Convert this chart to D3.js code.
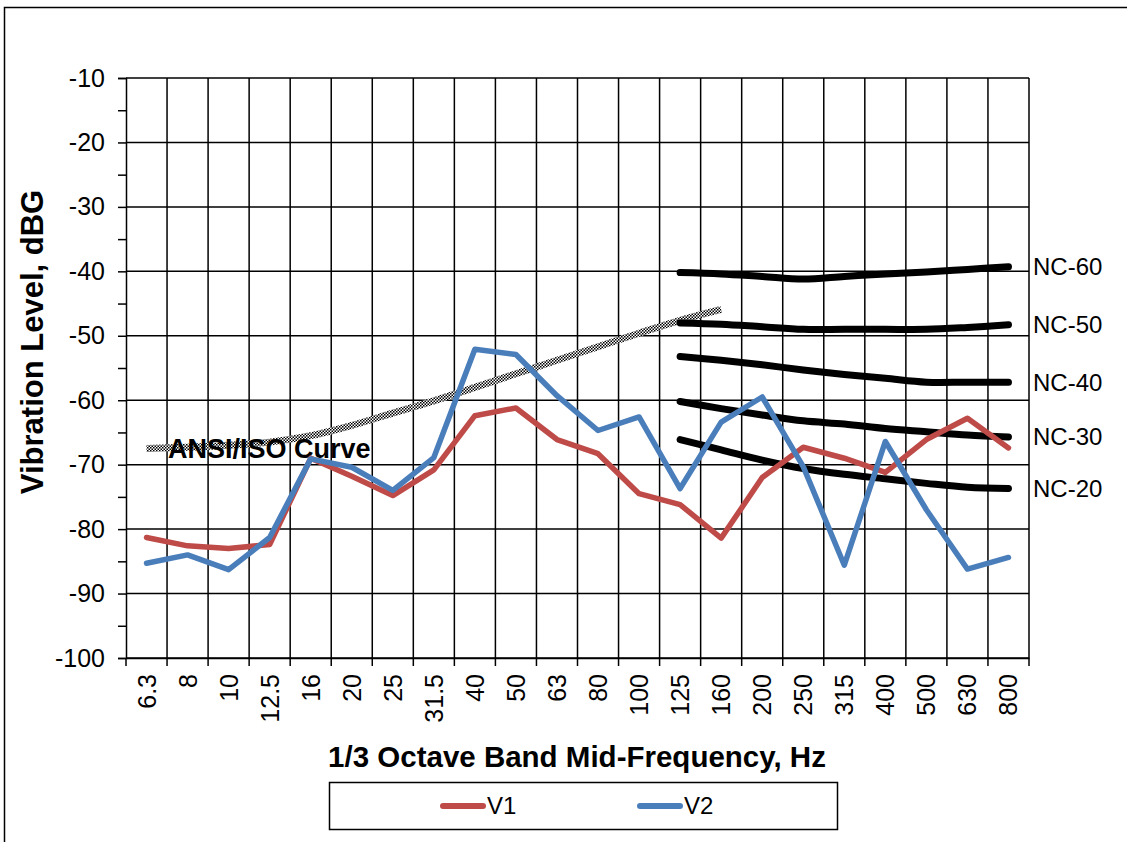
<!DOCTYPE html>
<html>
<head>
<meta charset="utf-8">
<script src="https://cdn.jsdelivr.net/npm/d3@7"></script>
<style>
  body { margin: 0; background: #fff; }
  text { font-family: "Liberation Sans", Arial, sans-serif; }
</style>
</head>
<body>
<div id="chart"></div>
<script>
const categories = ['6.3', '8', '10', '12.5', '16', '20', '25', '31.5', '40', '50', '63',
  '80', '100', '125', '160', '200', '250', '315', '400', '500', '630', '800'];

const v1 = [-81.3, -82.6, -83.0, -82.4, -69.0, -71.8, -74.8, -70.8, -62.4, -61.2, -66.1,
  -68.3, -74.5, -76.2, -81.4, -72.0, -67.3, -69.0, -71.2, -66.1, -62.8, -67.4];
const v2 = [-85.3, -84.0, -86.3, -81.3, -69.1, -70.4, -74.0, -68.9, -52.1, -52.9, -59.3,
  -64.7, -62.6, -73.7, -63.4, -59.5, -70.3, -85.6, -66.4, -77.0, -86.2, -84.4];

// ANSI/ISO curve covers 6.3 .. 160 Hz
const ansiCats = categories.slice(0, 15);
const ansi = [-67.5, -67.3, -67.0, -66.5, -65.5, -63.9, -62.0, -60.1, -58.0, -55.9, -53.8,
  -51.7, -49.6, -47.6, -45.9];

// NC curves cover 125 .. 800 Hz
const ncCats = categories.slice(13);
const ncNames = ['NC-60', 'NC-50', 'NC-40', 'NC-30', 'NC-20'];
const nc60 = [-40.2, -40.4, -40.8, -41.2, -40.8, -40.4, -40.1, -39.7, -39.3];
const nc50 = [-48.0, -48.2, -48.6, -49.0, -49.0, -49.0, -49.0, -48.7, -48.3];
const nc40 = [-53.2, -53.8, -54.5, -55.3, -56.0, -56.6, -57.2, -57.2, -57.2];
const nc30 = [-60.2, -61.3, -62.3, -63.2, -63.7, -64.4, -64.9, -65.4, -65.7];
const nc20 = [-66.1, -67.7, -69.3, -70.6, -71.5, -72.2, -72.9, -73.5, -73.7];
const ncValues = [nc60, nc50, nc40, nc30, nc20];

const yTicks = d3.range(-100, 0, 10);
const yMinor = d3.range(-95, -10, 10);

const width = 1127;
const height = 842;
const margin = { top: 78, right: 98, bottom: 184, left: 126 };
const font = '"Liberation Sans", Arial, sans-serif';

const svg = d3.select('#chart')
  .append('svg')
  .attr('width', width)
  .attr('height', height);

// checker pattern for the ANSI/ISO curve
const pat = svg.append('defs').append('pattern')
  .attr('id', 'checker')
  .attr('patternUnits', 'userSpaceOnUse')
  .attr('width', 3).attr('height', 3);
pat.append('rect').attr('width', 3).attr('height', 3).attr('fill', '#fff');
pat.append('rect').attr('width', 1.5).attr('height', 1.5).attr('fill', '#000');
pat.append('rect').attr('x', 1.5).attr('y', 1.5).attr('width', 1.5).attr('height', 1.5).attr('fill', '#000');

svg.append('rect')
  .attr('x', 4.5).attr('y', 7.5)
  .attr('width', 1140).attr('height', 850)
  .attr('fill', 'none').attr('stroke', '#000').attr('stroke-width', 1.5);

const x = d3.scaleBand()
  .domain(categories)
  .range([margin.left, width - margin.right]);

const y = d3.scaleLinear()
  .domain([-100, -10])
  .range([height - margin.bottom, margin.top]);

const xc = d => x(d) + x.bandwidth() / 2;

// grid
const grid = svg.append('g').attr('stroke', '#000').attr('stroke-width', 1.5);
grid.selectAll('.h')
  .data(yTicks)
  .join('line')
    .attr('x1', x.range()[0]).attr('x2', x.range()[1])
    .attr('y1', d => y(d)).attr('y2', d => y(d));
grid.selectAll('.v')
  .data(categories.slice(1).concat(['end']))
  .join('line')
    .attr('x1', d => d === 'end' ? x.range()[1] : x(d))
    .attr('x2', d => d === 'end' ? x.range()[1] : x(d))
    .attr('y1', y(-10)).attr('y2', y(-100));

// y axis
svg.append('g')
  .attr('transform', `translate(${margin.left},0)`)
  .call(d3.axisLeft(y).tickValues(yTicks).tickSize(8).tickPadding(13).tickFormat(d => String(d)))
  .call(g => g.select('.domain').attr('stroke-width', 1.5))
  .call(g => g.selectAll('.tick line').attr('stroke-width', 1.5))
  .call(g => g.selectAll('text').attr('font-size', 25).attr('fill', '#000')
    .style('font-family', font));

svg.append('g')
  .attr('transform', `translate(${margin.left},0)`)
  .call(d3.axisLeft(y).tickValues(yMinor).tickSize(8).tickFormat(''))
  .call(g => g.select('.domain').remove())
  .call(g => g.selectAll('.tick line').attr('stroke-width', 1.5));

// x axis: labels at band centres, ticks on band edges
svg.append('g')
  .attr('transform', `translate(0,${y(-100)})`)
  .call(d3.axisBottom(x).tickSize(0))
  .call(g => g.select('.domain').attr('stroke-width', 1.5))
  .call(g => g.selectAll('text')
    .attr('font-size', 25).attr('fill', '#000')
    .style('font-family', font)
    .attr('text-anchor', 'end')
    .attr('transform', 'rotate(-90)')
    .attr('x', -16).attr('y', 0).attr('dy', '0.36em'));

svg.append('g')
  .attr('stroke', '#000').attr('stroke-width', 1.5)
  .selectAll('line')
  .data(categories.concat(['end']))
  .join('line')
    .attr('x1', d => d === 'end' ? x.range()[1] : x(d))
    .attr('x2', d => d === 'end' ? x.range()[1] : x(d))
    .attr('y1', y(-100)).attr('y2', y(-100) + 8);

// ANSI/ISO curve
const ansiLine = d3.line()
  .x((d, i) => xc(ansiCats[i]))
  .y(d => y(d))
  .curve(d3.curveCatmullRom);

svg.append('path')
  .datum(ansi)
  .attr('d', ansiLine)
  .attr('fill', 'none')
  .attr('stroke', 'url(#checker)')
  .attr('stroke-width', 7);

svg.append('text')
  .attr('x', 168).attr('y', 449)
  .attr('dy', '0.35em')
  .attr('font-size', 27)
  .attr('font-weight', 'bold')
  .text('ANSI/ISO Curve');

// NC curves
const ncLine = d3.line()
  .x((d, i) => xc(ncCats[i]))
  .y(d => y(d))
  .curve(d3.curveCatmullRom);

ncValues.forEach((vals, k) => {
  svg.append('path')
    .datum(vals)
    .attr('d', ncLine)
    .attr('fill', 'none')
    .attr('stroke', '#000')
    .attr('stroke-width', 7)
    .attr('stroke-linecap', 'round')
    .attr('stroke-linejoin', 'round');
  svg.append('text')
    .attr('x', x.range()[1] + 4)
    .attr('y', y(vals[vals.length - 1]))
    .attr('dy', '0.35em')
    .attr('font-size', 24)
    .text(ncNames[k]);
});

// measured series
const line = d3.line()
  .x((d, i) => xc(categories[i]))
  .y(d => y(d));

const series = [
  { name: 'V1', values: v1, color: '#BE4B48' },
  { name: 'V2', values: v2, color: '#4A7EBB' }
];

series.forEach(s => {
  svg.append('path')
    .datum(s.values)
    .attr('d', line)
    .attr('fill', 'none')
    .attr('stroke', s.color)
    .attr('stroke-width', 5.5)
    .attr('stroke-linecap', 'round')
    .attr('stroke-linejoin', 'round');
});

// axis titles
svg.append('text')
  .attr('x', 577).attr('y', 757)
  .attr('dy', '0.35em')
  .attr('text-anchor', 'middle')
  .attr('font-size', 29.5)
  .attr('font-weight', 'bold')
  .text('1/3 Octave Band Mid-Frequency, Hz');

svg.append('text')
  .attr('transform', 'translate(32,342) rotate(-90)')
  .attr('dy', '0.35em')
  .attr('text-anchor', 'middle')
  .attr('font-size', 31)
  .attr('font-weight', 'bold')
  .text('Vibration Level, dBG');

// legend
const legend = svg.append('g');
legend.append('rect')
  .attr('x', 329.5).attr('y', 782.5)
  .attr('width', 508).attr('height', 47)
  .attr('fill', '#fff').attr('stroke', '#000').attr('stroke-width', 1.5);

const legX = [443, 640];
series.forEach((s, i) => {
  legend.append('line')
    .attr('x1', legX[i]).attr('x2', legX[i] + 40)
    .attr('y1', 806).attr('y2', 806)
    .attr('stroke', s.color).attr('stroke-width', 6)
    .attr('stroke-linecap', 'round');
  legend.append('text')
    .attr('x', legX[i] + 44).attr('y', 806)
    .attr('dy', '0.35em')
    .attr('font-size', 24)
    .text(s.name);
});
</script>
</body>
</html>
